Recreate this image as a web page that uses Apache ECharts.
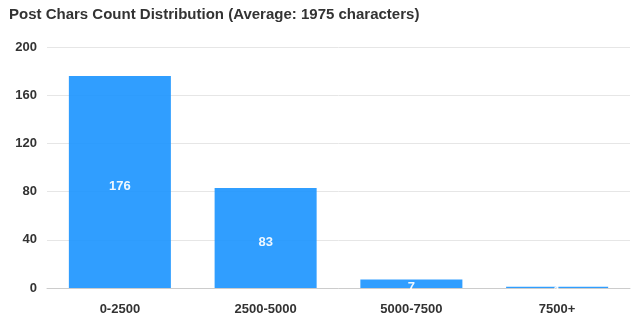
<!DOCTYPE html>
<html>
<head>
<meta charset="utf-8">
<script src="https://cdn.jsdelivr.net/npm/echarts@6/dist/echarts.min.js"></script>
<style>
  html, body { margin: 0; padding: 0; background: #fff; }
  #chart { width: 640px; height: 327px; }
</style>
</head>
<body>
<div id="chart"></div>
<script>
// Post length buckets and how many posts fall in each
const categories = ['0-2500', '2500-5000', '5000-7500', '7500+'];
const postCounts = [176, 83, 7, 1];
const averageChars = 1975;
const yTicks = { min: 0, max: 200, interval: 40 };

const FONT = 'Liberation Sans, Arial, sans-serif';

const chart = echarts.init(document.getElementById('chart'));
chart.setOption({
  animation: false,
  title: {
    text: 'Post Chars Count Distribution (Average: ' + averageChars + ' characters)',
    left: 4,
    top: 2,
    textStyle: { fontSize: 15, fontWeight: 'bold', color: '#333', fontFamily: FONT }
  },
  grid: { left: 47, right: 10, top: 47, bottom: 39 },
  xAxis: {
    type: 'category',
    data: categories,
    axisLine: { lineStyle: { color: '#ccc' } },
    axisTick: { lineStyle: { color: '#ccc' } },
    axisLabel: { color: '#333', fontWeight: 'bold', fontSize: 13, margin: 15, fontFamily: FONT }
  },
  yAxis: {
    type: 'value',
    min: yTicks.min,
    max: yTicks.max,
    interval: yTicks.interval,
    axisLine: { show: false },
    axisTick: { show: false },
    splitLine: { lineStyle: { color: '#e6e6e6' } },
    axisLabel: { color: '#333', fontWeight: 'bold', fontSize: 13, margin: 10, fontFamily: FONT }
  },
  series: [{
    type: 'bar',
    data: postCounts,
    barWidth: '70%',
    itemStyle: { color: '#1e96ff', opacity: 0.92 },
    label: {
      show: true,
      position: 'inside',
      offset: [0, 4],
      color: '#fff',
      fontWeight: 'bold',
      fontSize: 13,
      fontFamily: FONT
    }
  }]
});
</script>
</body>
</html>
